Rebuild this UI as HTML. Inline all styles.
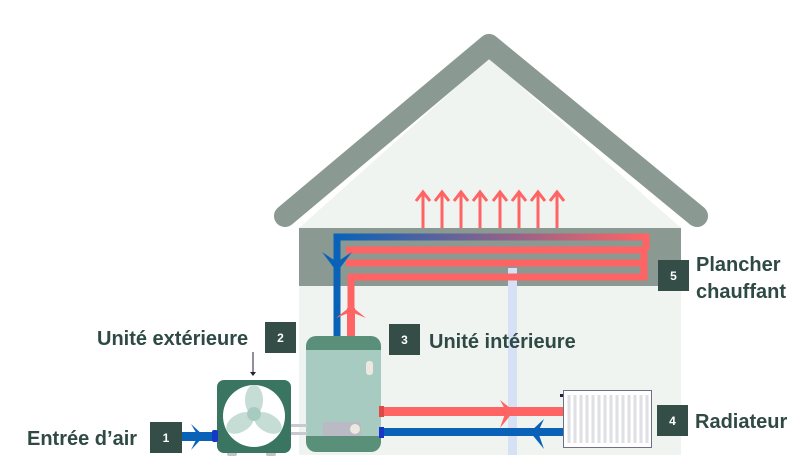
<!DOCTYPE html>
<html><head><meta charset="utf-8"><style>
html,body{margin:0;padding:0;background:#fff;width:809px;height:472px;overflow:hidden}
svg{display:block}
text{font-family:"Liberation Sans",sans-serif;font-weight:bold;fill:#2f4a44}
.n{fill:#fff;font-size:12px;text-anchor:middle}
</style></head><body>
<svg width="809" height="472" viewBox="0 0 809 472" xmlns="http://www.w3.org/2000/svg">
<defs>
<linearGradient id="g" x1="337" x2="648" gradientUnits="userSpaceOnUse" y1="0" y2="0">
<stop offset="0" stop-color="#0a62b8"/><stop offset="1" stop-color="#ff6464"/></linearGradient>
</defs>
<!-- house body -->
<polygon points="299,228 489,58 681,228 681,455 299,455" fill="#f0f4f1"/>
<rect x="299" y="228" width="382" height="58" fill="#8a9992"/>
<polyline points="285,216 489,45 697,216" fill="none" stroke="#8a9992" stroke-width="22" stroke-linecap="round" stroke-linejoin="round"/>
<!-- pale column -->
<rect x="508" y="268" width="9" height="187" fill="#d6e1f6"/>
<!-- heat arrows -->
<g stroke="#ff6464" stroke-width="3" fill="none">
<path d="M423,228V194M416,201L423,192L430,201"/>
<path d="M442,228V194M435,201L442,192L449,201"/>
<path d="M461,228V194M454,201L461,192L468,201"/>
<path d="M480,228V194M473,201L480,192L487,201"/>
<path d="M500,228V194M493,201L500,192L507,201"/>
<path d="M519,228V194M512,201L519,192L526,201"/>
<path d="M538,228V194M531,201L538,192L545,201"/>
<path d="M557,228V194M550,201L557,192L564,201"/>
</g>
<!-- floor heating pipes -->
<path d="M346,250H644V263H346" fill="none" stroke="#ff6464" stroke-width="7"/>
<path d="M351,338V277H644V263" fill="none" stroke="#ff6464" stroke-width="7"/>
<path d="M337,338V237H646V250" fill="none" stroke="url(#g)" stroke-width="7"/>
<path d="M337,238V338" stroke="#0a62b8" stroke-width="7"/>
<polygon points="322,252 337,262 352,252 337,272" fill="#0a62b8"/>
<polygon points="336,318 351,306 366,318 351,312" fill="#ff6464"/>
<rect x="347" y="308" width="8" height="30" fill="#ff6464"/>
<!-- tank -->
<rect x="306" y="336" width="75" height="116" rx="10" fill="#5a8f7a"/>
<rect x="306" y="350" width="75" height="86" fill="#a8cbc1"/>
<path d="M306,350 Q306,340 330,338 L357,338 Q381,340 381,350Z" fill="#5a8f7a"/>
<rect x="366" y="361" width="7" height="14" rx="3" fill="#ede9e0"/>
<rect x="323" y="422" width="38" height="14" fill="#b9bac4"/>
<circle cx="355" cy="429" r="5" fill="#ede9e0"/>
<!-- radiator pipes -->
<rect x="381" y="407" width="183" height="9" fill="#ff6464"/>
<rect x="381" y="428" width="183" height="8" fill="#0a62b8"/>
<rect x="379" y="406" width="5" height="11" fill="#e04848"/>
<rect x="379" y="427" width="5" height="11" fill="#1538c8"/>
<polygon points="500,400 514,411 500,428 506,411" fill="#ff6464"/>
<polygon points="544,419 530,432 544,449 538,432" fill="#0a62b8"/>
<!-- radiator -->
<rect x="563.5" y="390.5" width="88" height="57" fill="#fff" stroke="#6f7088"/>
<g stroke="#dfdfe6" stroke-width="3">
<path d="M569,395V443M575,395V443M581,395V443M587,395V443M593,395V443M599,395V443M605,395V443M611,395V443M617,395V443M623,395V443M629,395V443M635,395V443M641,395V443M647,395V443"/>
</g>
<rect x="560" y="394" width="3" height="3" fill="#223"/>
<!-- outdoor unit -->
<rect x="291" y="424" width="16" height="3" fill="#c8c9d0"/>
<rect x="291" y="432" width="16" height="3" fill="#c8c9d0"/>
<rect x="227" y="451" width="10" height="5" rx="2" fill="#c2c3ca"/>
<rect x="266" y="451" width="10" height="5" rx="2" fill="#c2c3ca"/>
<rect x="217" y="380" width="74" height="73" rx="7" fill="#3a7562"/>
<circle cx="254" cy="416" r="31" fill="#fff"/>
<g fill="#c6ddd6">
<ellipse cx="254" cy="400" rx="9" ry="15"/>
<ellipse cx="240" cy="423" rx="15" ry="9" transform="rotate(-30 240 423)"/>
<ellipse cx="268" cy="423" rx="15" ry="9" transform="rotate(30 268 423)"/>
</g>
<circle cx="254" cy="414" r="7" fill="#a8cbc1"/>
<!-- air inlet -->
<rect x="182" y="432" width="32" height="9" fill="#0a62b8"/>
<polygon points="191,424 204,436 191,450 198,436" fill="#0a62b8"/>
<rect x="212" y="430" width="6" height="12" rx="2" fill="#1538c8"/>
<!-- pointer -->
<path d="M253,352V372" stroke="#223" stroke-width="1"/>
<polygon points="250,372 256,372 253,376" fill="#223"/>
<!-- labels -->
<rect x="150" y="422" width="32" height="31" fill="#344d47"/><text class="n" x="166" y="442">1</text>
<rect x="265" y="322" width="31" height="31" fill="#344d47"/><text class="n" x="280.5" y="342">2</text>
<rect x="389" y="324" width="31" height="31" fill="#344d47"/><text class="n" x="404.5" y="344">3</text>
<rect x="657" y="405" width="31" height="31" fill="#344d47"/><text class="n" x="672.5" y="425">4</text>
<rect x="658" y="260" width="31" height="31" fill="#344d47"/><text class="n" x="673.5" y="280">5</text>
<text x="27" y="445" font-size="20">Entrée d’air</text>
<text x="97" y="345" font-size="20">Unité extérieure</text>
<text x="429" y="348" font-size="20">Unité intérieure</text>
<text x="695" y="428" font-size="20">Radiateur</text>
<text x="696" y="271" font-size="20">Plancher</text>
<text x="696" y="298" font-size="20">chauffant</text>
</svg>
</body></html>
